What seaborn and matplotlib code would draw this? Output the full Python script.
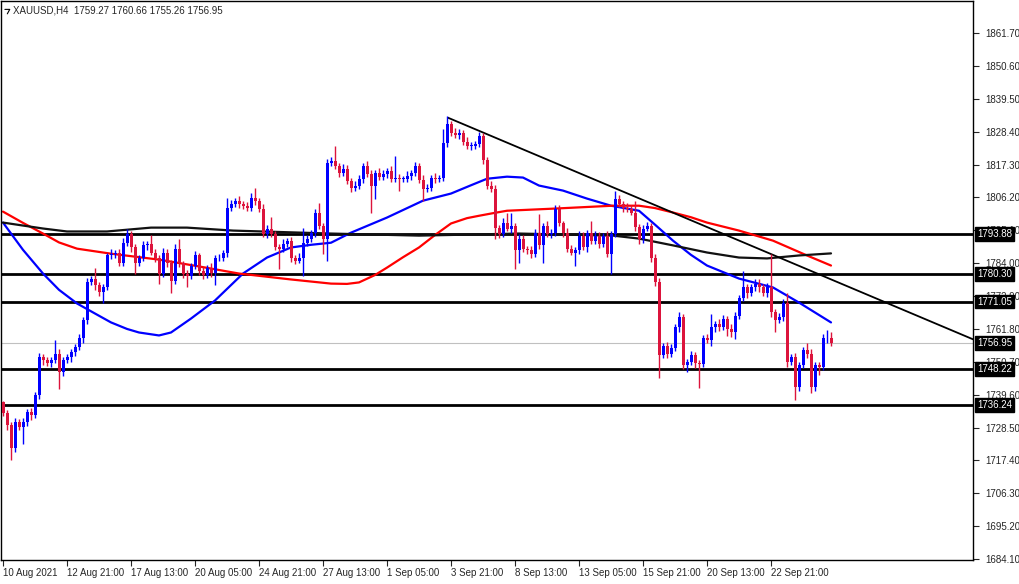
import matplotlib
matplotlib.use("Agg")
import matplotlib.pyplot as plt
import matplotlib.transforms as mtransforms
import numpy as np
import pandas as pd
import seaborn as sns

# 4-hour XAUUSD candles (open = previous close)
first_open = 1737.0
closes = [
    1733.3, 1729.3, 1721.5, 1730.4, 1728.6, 1730.4, 1733.7, 1732.6, 1739.4, 1752.2, 1751.2, 1750.2, 1751.2, 1753.5, 1747.1, 1751.2,
    1752.2, 1753.9, 1755.6, 1758.6, 1764.7, 1777.5, 1778.8, 1776.5, 1774.1, 1775.8, 1786.6, 1787.2, 1787.6, 1784.2, 1790.9, 1794.0,
    1789.3, 1783.9, 1785.9, 1790.0, 1790.6, 1787.6, 1785.6, 1780.5, 1787.6, 1784.2, 1778.1, 1788.9, 1783.9, 1780.5, 1779.8, 1783.2,
    1786.6, 1781.5, 1780.0, 1782.5, 1780.8, 1785.6, 1785.9, 1787.6, 1802.7, 1804.1, 1805.1, 1804.1, 1803.4, 1802.7, 1806.1, 1805.1,
    1802.4, 1794.0, 1795.7, 1794.0, 1789.3, 1788.9, 1790.6, 1791.6, 1785.9, 1784.9, 1785.9, 1790.9, 1792.3, 1794.3, 1801.1, 1796.7,
    1792.3, 1817.9, 1818.4, 1816.9, 1814.5, 1815.9, 1811.8, 1809.5, 1810.2, 1812.5, 1816.9, 1814.2, 1810.2, 1814.5, 1813.2, 1814.2,
    1815.2, 1812.5, 1812.8, 1812.5, 1812.5, 1813.5, 1814.5, 1816.9, 1812.2, 1809.1, 1809.5, 1812.8, 1812.5, 1812.8, 1824.6, 1831.0,
    1828.0, 1827.3, 1828.0, 1825.0, 1823.7, 1823.7, 1824.1, 1826.9, 1818.9, 1810.2, 1809.1, 1796.0, 1794.0, 1797.7, 1795.7, 1796.7,
    1788.3, 1792.3, 1788.9, 1788.3, 1787.2, 1794.3, 1790.0, 1796.7, 1794.0, 1794.3, 1802.4, 1797.4, 1794.3, 1788.9, 1787.6, 1788.3,
    1793.3, 1789.3, 1794.3, 1791.6, 1793.3, 1790.6, 1793.3, 1787.2, 1794.0, 1805.8, 1804.1, 1802.7, 1802.4, 1801.1, 1796.3, 1792.0,
    1795.7, 1796.5, 1785.9, 1777.5, 1752.9, 1756.2, 1753.5, 1755.2, 1762.3, 1765.7, 1749.5, 1750.5, 1752.9, 1750.2, 1750.0, 1758.6,
    1757.9, 1762.3, 1763.6, 1762.3, 1765.3, 1761.9, 1760.6, 1766.3, 1772.4, 1775.8, 1773.8, 1775.8, 1777.1, 1775.8, 1773.8, 1775.8,
    1767.4, 1764.7, 1765.7, 1770.7, 1750.5, 1752.2, 1742.1, 1749.5, 1754.6, 1753.5, 1742.1, 1749.5, 1748.8, 1758.6, 1758.9, 1756.95,
]
wick_up = [
    0.5, 1.0, 1.2, 1.5, 1.0, 1.2, 1.0, 1.5, 1.0, 1.5, 1.0, 1.2, 1.0, 4.4, 1.5, 1.0,
    1.0, 1.2, 1.0, 1.5, 1.0, 1.5, 1.0, 3.7, 1.0, 1.2, 1.0, 1.5, 1.0, 1.2, 1.5, 1.7,
    1.0, 1.2, 1.0, 1.5, 1.0, 3.0, 1.2, 1.0, 1.5, 1.2, 1.0, 1.5, 3.4, 1.0, 1.2, 1.0,
    1.5, 1.0, 1.2, 1.0, 1.5, 1.0, 1.2, 1.0, 3.4, 1.2, 1.0, 1.5, 1.0, 1.2, 1.5, 3.4,
    1.0, 1.5, 1.2, 4.0, 1.0, 1.2, 1.5, 1.0, 1.2, 1.0, 1.5, 5.0, 1.2, 1.0, 1.3, 3.3,
    1.0, 1.1, 1.5, 5.0, 1.0, 1.5, 1.2, 1.0, 1.5, 1.2, 1.0, 1.5, 1.2, 1.0, 1.5, 1.2,
    1.0, 1.5, 7.5, 1.2, 1.0, 1.5, 1.0, 1.2, 1.0, 1.5, 1.2, 1.0, 1.5, 1.0, 4.8, 2.7,
    1.0, 1.5, 1.2, 1.0, 1.5, 1.2, 1.0, 1.5, 1.2, 1.0, 1.5, 1.2, 1.0, 1.5, 3.4, 4.4,
    1.0, 1.5, 1.2, 1.0, 1.5, 1.2, 6.4, 1.0, 1.5, 1.2, 1.3, 1.3, 1.0, 1.5, 1.2, 1.0,
    1.5, 1.2, 1.0, 4.1, 1.5, 1.2, 1.0, 1.5, 1.0, 2.7, 1.2, 1.0, 1.5, 1.2, 4.0, 1.0,
    1.2, 1.5, 1.0, 1.2, 1.5, 1.0, 1.2, 1.5, 1.0, 1.7, 1.2, 1.0, 1.5, 1.2, 1.0, 1.0,
    1.5, 4.7, 1.0, 1.5, 1.2, 1.0, 1.5, 1.2, 1.0, 5.7, 1.2, 1.0, 1.5, 1.7, 1.0, 1.5,
    11.4, 1.0, 1.5, 1.2, 3.1, 1.0, 1.5, 1.2, 1.0, 2.3, 1.5, 1.2, 1.0, 1.5, 2.5, 1.8,
]
wick_dn = [
    1.0, 1.5, 4.0, 1.2, 1.0, 5.6, 1.2, 1.5, 1.0, 1.2, 1.5, 1.0, 1.2, 1.0, 5.7, 1.2,
    1.0, 1.5, 1.2, 1.0, 1.5, 1.2, 1.0, 1.5, 1.2, 3.4, 1.0, 1.2, 1.5, 1.0, 1.2, 1.0,
    1.5, 3.7, 1.0, 1.2, 1.5, 1.0, 1.2, 3.4, 1.0, 1.5, 4.3, 1.0, 1.2, 1.5, 4.0, 1.2,
    1.0, 1.5, 1.2, 1.0, 1.5, 4.3, 1.0, 1.2, 1.5, 1.0, 1.2, 1.5, 1.0, 1.2, 1.0, 1.5,
    1.2, 1.0, 1.5, 1.2, 1.0, 6.7, 1.2, 1.0, 1.5, 1.2, 1.0, 6.1, 1.2, 1.0, 1.5, 1.2,
    5.1, 7.4, 1.0, 1.2, 1.5, 1.0, 1.2, 1.5, 1.0, 1.2, 1.5, 1.0, 9.1, 4.4, 1.2, 1.0,
    1.5, 1.2, 1.0, 4.0, 1.2, 1.0, 1.5, 1.2, 1.0, 4.0, 1.2, 1.0, 1.5, 1.2, 1.0, 1.5,
    1.2, 1.0, 1.5, 1.2, 1.0, 1.5, 1.2, 1.0, 1.5, 1.2, 1.0, 3.7, 1.5, 1.2, 1.0, 1.5,
    6.1, 4.4, 1.0, 1.2, 1.5, 1.0, 1.2, 6.1, 1.0, 1.5, 1.2, 1.0, 1.5, 1.2, 1.0, 4.4,
    1.2, 1.0, 1.5, 1.2, 1.0, 1.5, 1.2, 1.0, 6.7, 1.2, 1.0, 1.5, 1.2, 1.0, 1.5, 1.4,
    1.2, 1.0, 1.5, 1.2, 7.8, 1.0, 1.5, 1.2, 1.0, 1.5, 1.2, 2.4, 1.0, 1.5, 8.3, 1.2,
    1.0, 2.0, 1.5, 1.2, 1.0, 2.5, 1.5, 2.3, 1.0, 1.2, 1.5, 1.0, 1.2, 1.5, 1.0, 1.2,
    1.5, 4.1, 1.0, 1.2, 1.5, 1.0, 4.4, 1.2, 1.0, 1.5, 2.0, 1.2, 2.6, 1.0, 1.5, 1.0,
]

# moving averages, read at sample bars
blue_idx = [0, 5, 10, 14, 18.5, 23, 27, 31, 34, 39, 42, 47, 53, 60, 66, 72, 77, 82, 87, 96, 105, 112, 117, 121, 126, 130, 134, 140, 146, 152, 159, 163, 167.5, 172, 176, 184, 192.5, 199, 207]
blue_val = [1797.7, 1788.5, 1780.5, 1775.0, 1770.4, 1767.0, 1764.0, 1761.8, 1760.6, 1759.6, 1760.6, 1765.3, 1771.4, 1780.5, 1785.9, 1789.3, 1790.2, 1790.9, 1794.3, 1799.4, 1805.1, 1807.5, 1810.3, 1812.5, 1813.2, 1812.9, 1810.2, 1808.5, 1805.8, 1803.4, 1801.7, 1797.0, 1791.6, 1786.8, 1783.2, 1778.8, 1775.8, 1770.7, 1764.0]
red_idx = [0, 5, 10, 14, 18.5, 27, 39, 49, 59, 72, 82, 86, 89, 93, 96, 100, 104, 108, 112, 116, 119, 123, 126, 137.5, 152.5, 159, 163, 167.5, 172, 176, 184, 192.5, 201, 207]
red_val = [1801.4, 1797.6, 1794.0, 1791.0, 1788.9, 1787.2, 1785.2, 1782.9, 1780.5, 1778.5, 1777.1, 1777.0, 1777.5, 1780.0, 1782.5, 1786.0, 1789.3, 1793.5, 1797.4, 1799.2, 1800.0, 1801.0, 1801.7, 1802.4, 1803.4, 1803.4, 1802.6, 1801.1, 1799.5, 1797.7, 1795.0, 1791.6, 1786.6, 1783.2]
black_idx = [0, 10, 16, 26, 37, 46, 57.5, 82, 104, 129, 152.5, 159, 167.5, 176, 184, 191, 199, 207]
black_val = [1797.7, 1795.7, 1794.7, 1794.7, 1796.0, 1796.0, 1795.0, 1794.0, 1793.3, 1794.0, 1793.3, 1792.3, 1790.0, 1787.6, 1785.9, 1785.6, 1786.6, 1787.3]

trend_idx = [111.25, 242.5]
trend_val = [1833.1, 1758.3]

levels = [1793.88, 1780.30, 1771.05, 1748.22, 1736.24]
last_price = 1756.95
price_ticks = [1861.70, 1850.60, 1839.50, 1828.40, 1817.30, 1806.20, 1795.10, 1784.00, 1772.90,
               1761.80, 1750.70, 1739.60, 1728.50, 1717.40, 1706.30, 1695.20, 1684.10]
time_labels = ["10 Aug 2021", "12 Aug 21:00", "17 Aug 13:00", "20 Aug 05:00", "24 Aug 21:00",
               "27 Aug 13:00", "1 Sep 05:00", "3 Sep 21:00", "8 Sep 13:00", "13 Sep 05:00",
               "15 Sep 21:00", "20 Sep 13:00", "22 Sep 21:00"]

sns.set_style("white")
plt.rcParams["font.family"] = ["Liberation Sans", "DejaVu Sans"]

df = pd.DataFrame({"close": closes, "wu": wick_up, "wd": wick_dn})
df["open"] = [first_open] + closes[:-1]
df["top"] = df[["open", "close"]].max(axis=1)
df["bot"] = df[["open", "close"]].min(axis=1)
df["high"] = df["top"] + df["wu"]
df["low"] = df["bot"] - df["wd"]
df["color"] = np.where(df["close"] >= df["open"], "#0000ff", "#dc143c")
x = np.arange(len(df))

fig = plt.figure(figsize=(10.2, 5.84), dpi=100)
ax = fig.add_axes([1 / 1020, 24 / 584, 972 / 1020, 559 / 584])

for lv in levels:
    ax.axhline(lv, color="black", lw=2, zorder=1)
ax.axhline(last_price, color="#c0c0c0", lw=0.8, zorder=1)

sns.lineplot(x=blue_idx, y=blue_val, ax=ax, color="#0000ff", lw=1.6, zorder=2)
sns.lineplot(x=red_idx, y=red_val, ax=ax, color="#ff0000", lw=1.6, zorder=2)
sns.lineplot(x=black_idx, y=black_val, ax=ax, color="#111111", lw=1.6, zorder=2)
sns.lineplot(x=trend_idx, y=trend_val, ax=ax, color="black", lw=1.3, zorder=2)

ax.vlines(x, df["low"], df["high"], colors=df["color"], lw=1, zorder=3)
heights = np.maximum(df["top"] - df["bot"], 0.25)
ax.bar(x, heights, bottom=df["bot"], width=0.75, color=df["color"], linewidth=0, zorder=4)

ax.set_xlim(-0.5, 242.5)
ax.set_ylim(1683.8, 1872.5)
ax.set_xlabel("")
ax.set_ylabel("")

ax.yaxis.tick_right()
ax.set_yticks(price_ticks)
ax.set_yticklabels([f"{p:.2f}" for p in price_ticks], fontsize=7)
ax.tick_params(axis="y", length=4, width=0.8, pad=5, right=True)

ax.set_xticks(np.arange(len(time_labels)) * 16)
ax.set_xticklabels(time_labels, fontsize=7, ha="left")
ax.tick_params(axis="x", length=4, width=0.8, pad=2, bottom=True)

for sp in ax.spines.values():
    sp.set_color("black")
    sp.set_linewidth(1)

trans = mtransforms.blended_transform_factory(ax.transAxes, ax.transData)
for lv in levels + [last_price]:
    ax.text(1.004, lv, f"{lv:.2f}", transform=trans, fontsize=7, color="white",
            va="center", ha="left", zorder=10, clip_on=False,
            bbox=dict(boxstyle="square,pad=0.2", fc="black", ec="black"))

ax.text(0.012, 0.992, "XAUUSD,H4  1759.27 1760.66 1755.26 1756.95", transform=ax.transAxes,
        fontsize=7, va="top", ha="left")
ax.plot([0.004, 0.009, 0.0065], [0.985, 0.985, 0.977], transform=ax.transAxes, color="black", lw=0.8)

fig.savefig("out.png", dpi=100)
